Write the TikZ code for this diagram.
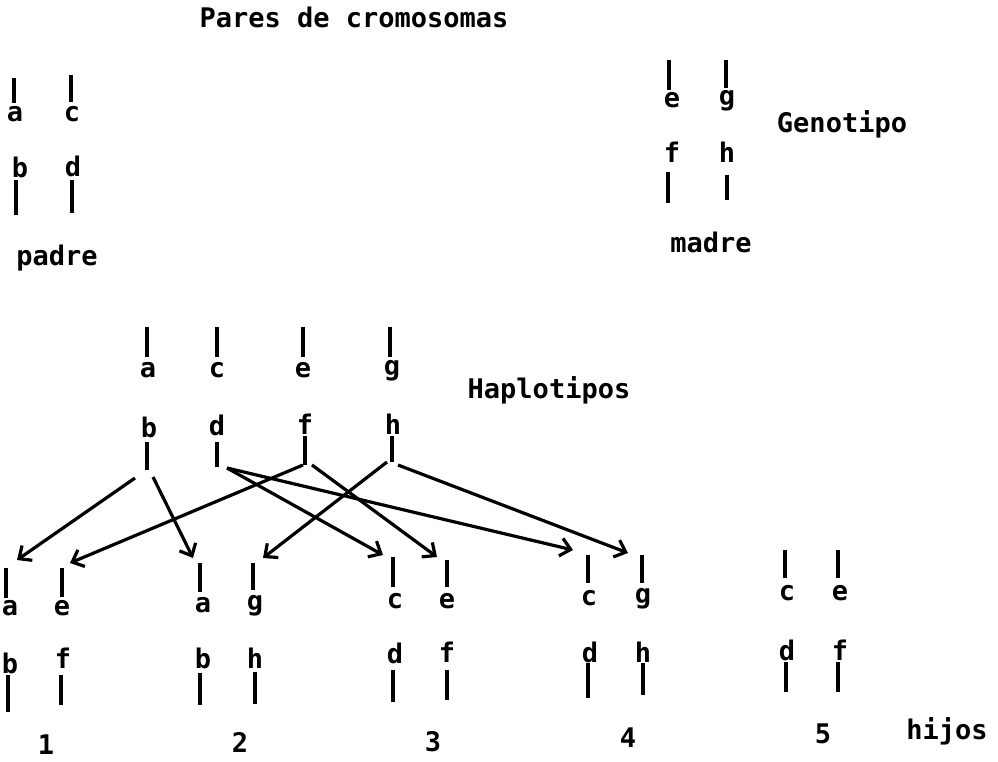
\documentclass[tikz,border=0pt]{standalone}
\usepackage{fontspec}
\newfontfamily\mono{DejaVu Sans Mono Bold}
\usetikzlibrary{arrows.meta}
\tikzset{
  lbl/.style={font=\mono\fontsize{27}{29}\selectfont, inner sep=0pt, anchor=base},
  bar/.style={line width=4.5pt},
  arr/.style={line width=3.2pt, -{Straight Barb[length=10pt,width=18pt]}}
}
\begin{document}
\begin{tikzpicture}[x=1pt,y=-1pt]
\useasboundingbox (0,0) rectangle (998,762);
% title
\node[lbl] (title) at (354,28) {Pares de cromosomas};
% padre
\node[lbl] (pa) at (15,122) {a};
\node[lbl] (pc) at (72,122) {c};
\node[lbl] (pb) at (20,178) {b};
\node[lbl] (pd) at (73,177) {d};
\node[lbl] (padre) at (57,265) {padre};
\draw[bar] (14,78) -- (14,103);
\draw[bar] (71,75) -- (71,102);
\draw[bar] (16,180) -- (16,215);
\draw[bar] (72,180) -- (72,213);
% madre
\node[lbl] (me) at (672,108) {e};
\node[lbl] (mg) at (727,106) {g};
\node[lbl] (mf) at (672,163) {f};
\node[lbl] (mh) at (727,163) {h};
\node[lbl] (geno) at (842,133) {Genotipo};
\node[lbl] (madre) at (711,252) {madre};
\draw[bar] (669,60) -- (669,90);
\draw[bar] (726,60) -- (726,88);
\draw[bar] (668,172) -- (668,203);
\draw[bar] (727,175) -- (727,200);
% haplotipos
\node[lbl] (ha) at (148,377) {a};
\node[lbl] (hc) at (217,377) {c};
\node[lbl] (he) at (303,377) {e};
\node[lbl] (hg) at (392,375) {g};
\node[lbl] (hb) at (149,437) {b};
\node[lbl] (hd) at (217,435) {d};
\node[lbl] (hf) at (305,434) {f};
\node[lbl] (hh) at (393,434) {h};
\node[lbl] (haplo) at (549,398) {Haplotipos};
\draw[bar] (147,327) -- (147,357);
\draw[bar] (217,327) -- (217,357);
\draw[bar] (303,327) -- (303,357);
\draw[bar] (390,327) -- (390,357);
\draw[bar] (147,442) -- (147,470);
\draw[bar] (217,442) -- (217,467);
\draw[bar] (305,436) -- (305,465);
\draw[bar] (392,436) -- (392,462);
% child 1
\node[lbl] (c1a) at (10,615) {a};
\node[lbl] (c1e) at (62,615) {e};
\node[lbl] (c1b) at (10,673) {b};
\node[lbl] (c1f) at (63,668) {f};
\node[lbl] (n1) at (46,754) {1};
\draw[bar] (6,568) -- (6,598);
\draw[bar] (62,568) -- (62,597);
\draw[bar] (8,675) -- (8,712);
\draw[bar] (61,675) -- (61,705);
% child 2
\node[lbl] (c2a) at (203,612) {a};
\node[lbl] (c2g) at (255,610) {g};
\node[lbl] (c2b) at (203,668) {b};
\node[lbl] (c2h) at (255,668) {h};
\node[lbl] (n2) at (240,752) {2};
\draw[bar] (200,563) -- (200,592);
\draw[bar] (253,563) -- (253,590);
\draw[bar] (200,673) -- (200,705);
\draw[bar] (255,672) -- (255,704);
% child 3
\node[lbl] (c3c) at (395,608) {c};
\node[lbl] (c3e) at (447,608) {e};
\node[lbl] (c3d) at (395,663) {d};
\node[lbl] (c3f) at (447,662) {f};
\node[lbl] (n3) at (433,751) {3};
\draw[bar] (393,557) -- (393,587);
\draw[bar] (447,560) -- (447,587);
\draw[bar] (393,670) -- (393,702);
\draw[bar] (447,670) -- (447,700);
% child 4
\node[lbl] (c4c) at (589,605) {c};
\node[lbl] (c4g) at (643,603) {g};
\node[lbl] (c4d) at (590,662) {d};
\node[lbl] (c4h) at (643,662) {h};
\node[lbl] (n4) at (628,747) {4};
\draw[bar] (588,555) -- (588,583);
\draw[bar] (642,555) -- (642,583);
\draw[bar] (588,663) -- (588,698);
\draw[bar] (643,663) -- (643,695);
% child 5
\node[lbl] (c5c) at (787,600) {c};
\node[lbl] (c5e) at (840,600) {e};
\node[lbl] (c5d) at (787,660) {d};
\node[lbl] (c5f) at (840,660) {f};
\node[lbl] (n5) at (823,743) {5};
\node[lbl] (hijos) at (947,739) {hijos};
\draw[bar] (785,550) -- (785,578);
\draw[bar] (838,550) -- (838,578);
\draw[bar] (786,662) -- (786,692);
\draw[bar] (838,662) -- (838,692);
% arrow ends
\coordinate (sbL) at (135,478);
\coordinate (sbR) at (153,477);
\coordinate (sd) at (227,468);
\coordinate (sfL) at (303,465);
\coordinate (sfR) at (312,465);
\coordinate (shL) at (387,462);
\coordinate (shR) at (398,465);
\coordinate (t1a) at (17,560);
\coordinate (t2a) at (193,558);
\coordinate (t3c) at (383,555);
\coordinate (t4c) at (573,550);
\coordinate (t1e) at (70,563);
\coordinate (t3e) at (437,557);
\coordinate (t2g) at (263,558);
\coordinate (t4g) at (628,553);
\draw[arr] (sbL) -- (t1a);
\draw[arr] (sbR) -- (t2a);
\draw[arr] (sd) -- (t3c);
\draw[arr] (sd) -- (t4c);
\draw[arr] (sfL) -- (t1e);
\draw[arr] (sfR) -- (t3e);
\draw[arr] (shL) -- (t2g);
\draw[arr] (shR) -- (t4g);
\end{tikzpicture}
\end{document}
